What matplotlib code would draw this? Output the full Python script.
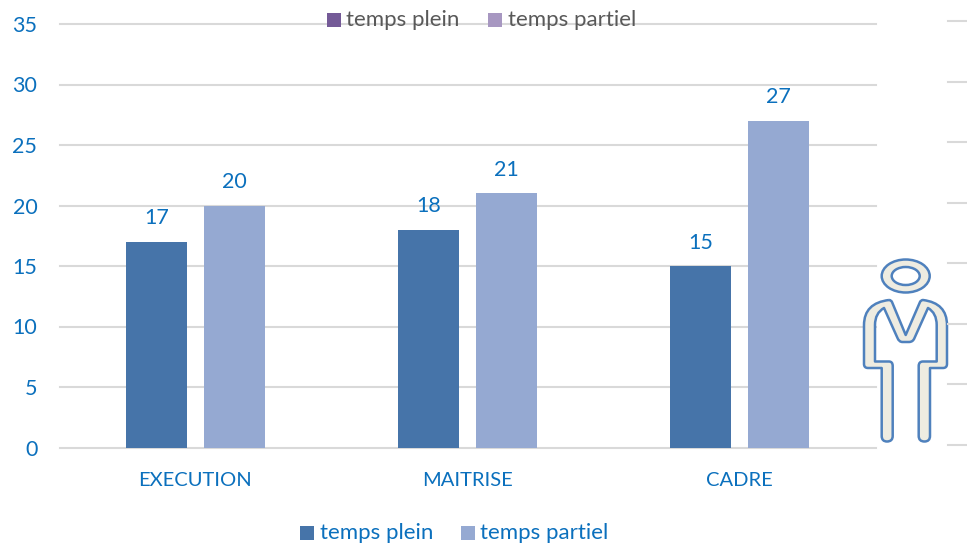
import numpy as np
import matplotlib
matplotlib.use("Agg")
import matplotlib.pyplot as plt
from matplotlib.patches import Ellipse, PathPatch, Rectangle
from matplotlib.path import Path

W, H = 967, 545

categories = ["EXECUTION", "MAITRISE", "CADRE"]
temps_plein = [17, 18, 15]
temps_partiel = [20, 21, 27]
y_ticks = [0, 5, 10, 15, 20, 25, 30, 35]

BLUE = "#4674a9"
LIGHT = "#95a9d2"
TEXT = "#0b70bd"
GRID = "#d9d9d9"
GHOST_TEXT = "#595959"

plt.rcParams["font.family"] = ["Lato", "DejaVu Sans"]

fig = plt.figure(figsize=(W / 100, H / 100), dpi=100)
ax = fig.add_axes([59.5 / W, 1 - 447.5 / H, 816 / W, 423.5 / H])

x = np.arange(len(categories))
width = 61 / 272
off = 39 / 272
b1 = ax.bar(x - off, temps_plein, width, color=BLUE, zorder=3)
b2 = ax.bar(x + off, temps_partiel, width, color=LIGHT, zorder=3)
for bars, vals in ((b1, temps_plein), (b2, temps_partiel)):
    for r, v in zip(bars, vals):
        ax.text(r.get_x() + r.get_width() / 2, v + 1.1, str(v), ha="center",
                va="bottom", fontsize=15.5, color=TEXT)

ax.set_xlim(-0.5, 2.5)
ax.set_ylim(0, 35)
ax.set_yticks(y_ticks)
ax.set_xticks(x)
ax.set_xticklabels(categories)
ax.tick_params(axis="y", length=0, labelsize=15.5, labelcolor=TEXT, pad=16)
ax.tick_params(axis="x", length=0, labelsize=14.5, labelcolor=TEXT, pad=18)
ax.grid(axis="y", color=GRID, lw=1.5, zorder=1)
for line in ax.get_ygridlines():
    line.set_clip_on(False)  # top and bottom lines get cut in half otherwise
ax.set_axisbelow(True)
for s in ax.spines.values():
    s.set_visible(False)

# ghost chart behind: gridline stubs on the right edge
for t in y_ticks:
    yy = 1 - (447.5 - t * 423.5 / 35 - 2.7) / H
    fig.add_artist(plt.Line2D([948 / W, 1], [yy, yy], color=GRID, lw=1.5))


def legend(y, x0, x1, c1, c2, col):
    # y is the pixel row of the legend centre
    sq = 14
    for xs, c, name in ((x0, c1, "temps plein"), (x1, c2, "temps partiel")):
        fig.add_artist(Rectangle((xs / W, 1 - (y + sq / 2) / H), sq / W, sq / H,
                                 color=c, transform=fig.transFigure, lw=0))
        fig.text((xs + 19.5) / W, 1 - y / H, name, color=col, fontsize=16,
                 va="center", zorder=5)


legend(533, 300, 461, BLUE, LIGHT, TEXT)
legend(20, 327, 488, "#745a97", "#a797c1", GHOST_TEXT)

# person pictogram in pixel coordinates
over = fig.add_axes([0, 0, 1, 1], facecolor="none")
over.set_xlim(0, W)
over.set_ylim(H, 0)
over.axis("off")
FILL = "#eeece1"
EDGE = "#4f81bd"
over.add_patch(Ellipse((905.7, 276), 48, 33, fc=FILL, ec=EDGE, lw=1.8))
over.add_patch(Ellipse((905.7, 276), 28, 18, fc="white", ec=EDGE, lw=1.8))

M, L, C = Path.MOVETO, Path.LINETO, Path.CURVE3
body = [
    (M, (889, 300)), (C, (891, 300)), (C, (892, 302)),
    (L, (905.7, 335)), (L, (920, 302)), (C, (921, 300)), (C, (923, 300)),
    (C, (947, 303)), (C, (947, 325)), (L, (947, 364)), (C, (947, 368)), (C, (943, 368)),
    (L, (930, 368)), (L, (930, 436)), (C, (930, 441.5)), (C, (924.5, 441.5)),
    (C, (918.7, 441.5)), (C, (918.7, 436)), (L, (918.7, 366)),
    (C, (918.7, 361.5)), (C, (923, 361.5)),
    (L, (936.7, 361.5)), (L, (936.7, 325)), (C, (936.7, 313)), (C, (928, 308)),
    (L, (914.5, 338)), (C, (913, 342)), (C, (909, 342)), (L, (902.5, 342)),
    (C, (899, 342)), (C, (897.5, 338)), (L, (884, 308)), (C, (875, 313)), (C, (875, 325)),
    (L, (875, 361.5)), (L, (889, 361.5)), (C, (892.7, 361.5)), (C, (892.7, 366)),
    (L, (892.7, 436)), (C, (892.7, 441.5)), (C, (887, 441.5)),
    (C, (881.7, 441.5)), (C, (881.7, 436)),
    (L, (881.7, 368)), (L, (868, 368)), (C, (864, 368)), (C, (864, 364)),
    (L, (864, 325)), (C, (864, 303)), (C, (889, 300)),
]
codes = [c for c, _ in body]
verts = [p for _, p in body]
over.add_patch(PathPatch(Path(verts, codes), fc=FILL, ec=EDGE, lw=1.8, joinstyle="round"))

fig.savefig("out.png", dpi=100)
